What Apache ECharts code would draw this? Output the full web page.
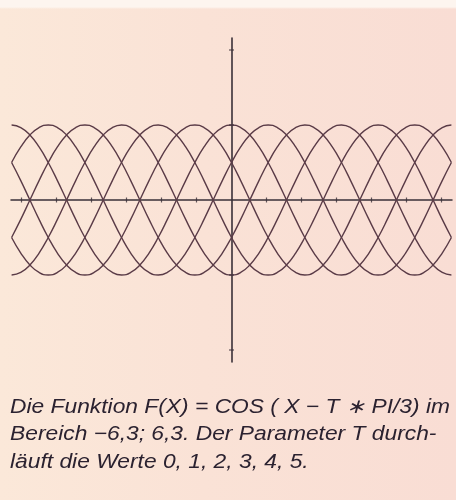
<!DOCTYPE html>
<html>
<head>
<meta charset="utf-8">
<title>F(X) = COS(X - T*PI/3)</title>
<script src="https://cdn.jsdelivr.net/npm/echarts@6/dist/echarts.min.js"></script>
<style>
  html, body { margin: 0; padding: 0; }
  #chart {
    width: 456px; height: 500px;
    background: linear-gradient(180deg, #fdf5ef 0px, #fdf5ef 7px, rgba(253,245,239,0) 9px),
                linear-gradient(90deg, #fbe8d9 0%, #fae2d6 45%, #f9ddd4 100%);
  }
</style>
</head>
<body>
<div id="chart"></div>
<script>
// Sample positions: -2*PI .. 2*PI in steps of PI/12
const xValues = [
  -6.283, -6.021, -5.760, -5.498, -5.236, -4.974, -4.712, -4.451, -4.189, -3.927,
  -3.665, -3.403, -3.142, -2.880, -2.618, -2.356, -2.094, -1.833, -1.571, -1.309,
  -1.047, -0.785, -0.524, -0.262, 0,
  0.262, 0.524, 0.785, 1.047, 1.309, 1.571, 1.833, 2.094, 2.356, 2.618,
  2.880, 3.142, 3.403, 3.665, 3.927, 4.189, 4.451, 4.712, 4.974, 5.236,
  5.498, 5.760, 6.021, 6.283
];

// F(X) for T = 0 .. 5
const curveT0 = [
  1, 0.966, 0.866, 0.707, 0.5, 0.259, 0, -0.259, -0.5, -0.707, -0.866, -0.966,
  -1, -0.966, -0.866, -0.707, -0.5, -0.259, 0, 0.259, 0.5, 0.707, 0.866, 0.966,
  1, 0.966, 0.866, 0.707, 0.5, 0.259, 0, -0.259, -0.5, -0.707, -0.866, -0.966,
  -1, -0.966, -0.866, -0.707, -0.5, -0.259, 0, 0.259, 0.5, 0.707, 0.866, 0.966,
  1
];
const curveT1 = [
  0.5, 0.707, 0.866, 0.966,
  1, 0.966, 0.866, 0.707, 0.5, 0.259, 0, -0.259, -0.5, -0.707, -0.866, -0.966,
  -1, -0.966, -0.866, -0.707, -0.5, -0.259, 0, 0.259, 0.5, 0.707, 0.866, 0.966,
  1, 0.966, 0.866, 0.707, 0.5, 0.259, 0, -0.259, -0.5, -0.707, -0.866, -0.966,
  -1, -0.966, -0.866, -0.707, -0.5, -0.259, 0, 0.259, 0.5
];
const curveT2 = [
  -0.5, -0.259, 0, 0.259, 0.5, 0.707, 0.866, 0.966,
  1, 0.966, 0.866, 0.707, 0.5, 0.259, 0, -0.259, -0.5, -0.707, -0.866, -0.966,
  -1, -0.966, -0.866, -0.707, -0.5, -0.259, 0, 0.259, 0.5, 0.707, 0.866, 0.966,
  1, 0.966, 0.866, 0.707, 0.5, 0.259, 0, -0.259, -0.5, -0.707, -0.866, -0.966,
  -1, -0.966, -0.866, -0.707, -0.5
];
const curveT3 = [
  -1, -0.966, -0.866, -0.707, -0.5, -0.259, 0, 0.259, 0.5, 0.707, 0.866, 0.966,
  1, 0.966, 0.866, 0.707, 0.5, 0.259, 0, -0.259, -0.5, -0.707, -0.866, -0.966,
  -1, -0.966, -0.866, -0.707, -0.5, -0.259, 0, 0.259, 0.5, 0.707, 0.866, 0.966,
  1, 0.966, 0.866, 0.707, 0.5, 0.259, 0, -0.259, -0.5, -0.707, -0.866, -0.966,
  -1
];
const curveT4 = [
  -0.5, -0.707, -0.866, -0.966,
  -1, -0.966, -0.866, -0.707, -0.5, -0.259, 0, 0.259, 0.5, 0.707, 0.866, 0.966,
  1, 0.966, 0.866, 0.707, 0.5, 0.259, 0, -0.259, -0.5, -0.707, -0.866, -0.966,
  -1, -0.966, -0.866, -0.707, -0.5, -0.259, 0, 0.259, 0.5, 0.707, 0.866, 0.966,
  1, 0.966, 0.866, 0.707, 0.5, 0.259, 0, -0.259, -0.5
];
const curveT5 = [
  0.5, 0.259, 0, -0.259, -0.5, -0.707, -0.866, -0.966,
  -1, -0.966, -0.866, -0.707, -0.5, -0.259, 0, 0.259, 0.5, 0.707, 0.866, 0.966,
  1, 0.966, 0.866, 0.707, 0.5, 0.259, 0, -0.259, -0.5, -0.707, -0.866, -0.966,
  -1, -0.966, -0.866, -0.707, -0.5, -0.259, 0, 0.259, 0.5, 0.707, 0.866, 0.966,
  1, 0.966, 0.866, 0.707, 0.5
];

// Tick positions on the two axes
const xTicks = [-6, -5, -4, -3, -2, -1, 1, 2, 3, 4, 5, 6];
const yTicks = [-2, -1, 1, 2];

const captionLines = [
  'Die Funktion F(X) = COS ( X \u2212 T \u2217 PI/3) im',
  'Bereich \u22126,3; 6,3. Der Parameter T durch-',
  'l\u00e4uft die Werte 0, 1, 2, 3, 4, 5.'
];

const curves = [curveT0, curveT1, curveT2, curveT3, curveT4, curveT5];
const lineColor = '#5a3b47';
const axisColor = '#3a3038';

const curveSeries = curves.map((vals, t) => ({
  name: 'T = ' + t,
  type: 'line',
  data: xValues.map((x, i) => [x, vals[i]]),
  smooth: true,
  showSymbol: false,
  silent: true,
  lineStyle: { color: lineColor, width: 1.4 },
  z: 3
}));

// Caption: three italic lines, slightly widened typeface
const captionGraphics = captionLines.map((line, i) => ({
  type: 'text',
  x: 10,
  y: 397 + i * 27.5,
  scaleX: 1.14,
  silent: true,
  style: {
    text: line,
    font: 'italic 20px "Liberation Sans", Arial, sans-serif',
    fill: '#2b2230',
    textVerticalAlign: 'top'
  }
}));

const chart = echarts.init(document.getElementById('chart'), null, { renderer: 'canvas' });

chart.setOption({
  backgroundColor: 'transparent',
  animation: false,
  grid: { left: 11, width: 441, top: 38, height: 324, containLabel: false },
  xAxis: {
    type: 'value',
    min: -6.3,
    max: 6.3,
    axisLine: { onZero: true, lineStyle: { color: axisColor, width: 1.5 } },
    axisTick: { show: false },
    axisLabel: { show: false },
    splitLine: { show: false }
  },
  yAxis: {
    type: 'value',
    min: -2.16,
    max: 2.16,
    axisLine: { onZero: true, lineStyle: { color: axisColor, width: 1.6 } },
    axisTick: { show: false },
    axisLabel: { show: false },
    splitLine: { show: false }
  },
  graphic: captionGraphics,
  series: curveSeries.concat([
    {
      type: 'scatter',
      data: xTicks.map(v => [v, 0]),
      symbol: 'rect',
      symbolSize: [1.2, 5],
      silent: true,
      itemStyle: { color: axisColor },
      z: 4
    },
    {
      type: 'scatter',
      data: yTicks.map(v => [0, v]),
      symbol: 'rect',
      symbolSize: [5, 1.2],
      silent: true,
      itemStyle: { color: axisColor },
      z: 4
    }
  ])
});
</script>
</body>
</html>
